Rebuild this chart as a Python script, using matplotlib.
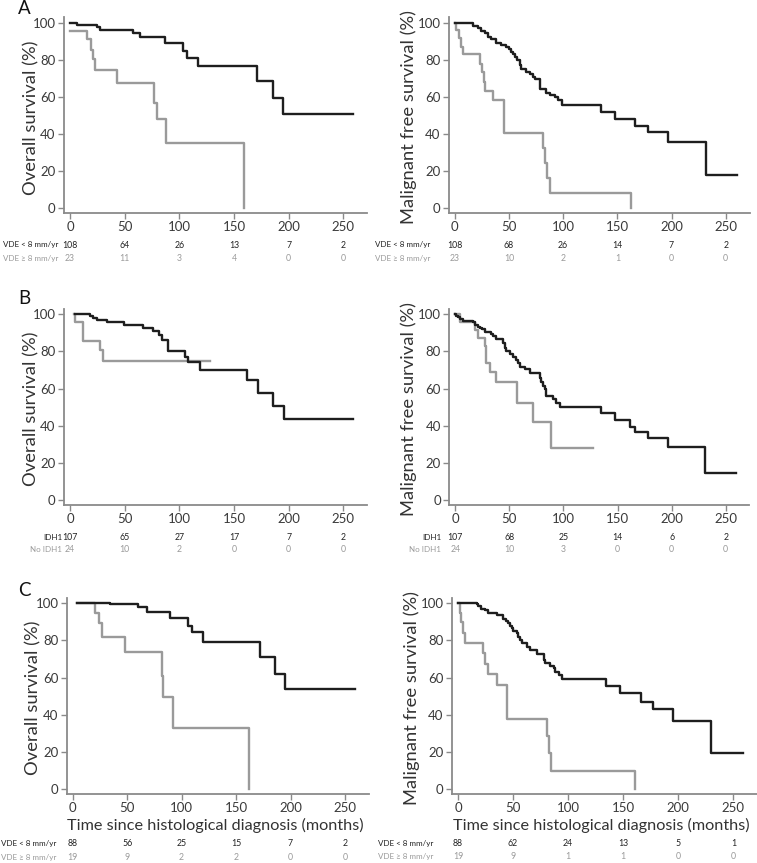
import matplotlib
matplotlib.use("Agg")
import matplotlib.pyplot as plt

plt.rcParams['font.family'] = ['Lato', 'DejaVu Sans']

W, H = 757, 863
BLACK = '#1e1e1e'
GRAY = '#9a9a9a'
AXC = '#8a8a8a'

# --- data: Kaplan-Meier steps (months, survival %) ---
# A: VDE groups
a_os_low_t = [0, 6.7, 24.4, 27.4, 57.3, 64, 86.9, 103, 106.7, 116.8, 170.7, 185.4, 194.5, 258.5]
a_os_low_s = [99.6, 98.7, 97.8, 96.0, 94.3, 92.5, 89.2, 84.9, 80.8, 76.7, 68.6, 59.6, 50.8, 50.8]
a_os_high_t = [0, 15.9, 18.9, 20.7, 22.9, 43.3, 77, 79.3, 87.5, 159.5, 159.5]
a_os_high_s = [95.7, 91.0, 85.3, 80.2, 74.5, 67.7, 56.9, 47.9, 35.0, 35.0, 0]

a_mfs_low_t = [0, 16.9, 21.5, 24.6, 27.7, 30.8, 33.8, 38.4, 43, 47.7, 50.1, 52.3, 53.8, 55.4,
               57.8, 60, 61.5, 66.1, 69.2, 72.3, 73.8, 78.4, 84.6, 87.6, 92.3, 95.3, 99.3,
               134.7, 148.2, 166, 178.4, 196.8, 231.5, 260.8]
a_mfs_low_s = [100, 98.2, 97.0, 95.7, 94.3, 92.1, 91.0, 88.9, 87.8, 87.1, 85.6, 84.4, 83.1, 81.3,
               79.9, 77.2, 74.9, 73.6, 72.4, 70.9, 69.7, 64.1, 62.3, 61.0, 59.8, 58.3, 55.7,
               52.1, 48.1, 44.3, 40.9, 35.9, 18.0, 18.0]
a_mfs_high_t = [0, 1.5, 3.7, 5.5, 7.7, 23.1, 25.5, 27.1, 28.3, 35.4, 45.5, 81.5, 83, 85.2, 87.6, 163, 163]
a_mfs_high_s = [100, 96, 91.6, 87.1, 82.9, 77.7, 73.6, 68.2, 63.2, 58.3, 40.8, 32.3, 24.6, 16.5, 8.4, 8.4, 0]

# B: IDH1 groups
b_os_idh_t = [4.6, 18.3, 21, 24.4, 33.5, 49.4, 67, 76.2, 81.7, 83.8, 89.9, 105.2, 108.2, 118.9,
              161.6, 172.3, 186, 195.7, 258.5]
b_os_idh_s = [100, 99.3, 98.2, 96.9, 96.1, 94.3, 92.5, 91.2, 88.9, 86.2, 80.4, 76.8, 74.5, 70.0,
              64.6, 57.8, 50.6, 43.4, 43.4]
b_os_no_t = [4.0, 5.0, 11.6, 27.4, 29.9, 128]
b_os_no_s = [100, 96.0, 85.8, 80.8, 75.0, 75.0]

b_mfs_idh_t = [0, 0.9, 2.5, 4, 7.1, 16.3, 17.9, 21, 22.5, 24.7, 27.1, 33.3, 34.8, 37.9, 44.1, 45.6,
               47.2, 50.2, 53.3, 56.4, 58, 59.5, 64.1, 68.7, 78, 79.5, 81.1, 82.6, 84.2, 90.3,
               93.4, 96.5, 134.4, 147.3, 161.2, 165.8, 178.2, 196.7, 230.6, 259.9]
b_mfs_idh_s = [100, 99.3, 98.7, 97.5, 96.6, 95.7, 94.3, 93.4, 92.6, 91.9, 90.3, 89.4, 88.3, 86.5,
               84.7, 81.7, 80.4, 78.6, 76.8, 75.4, 74.0, 71.5, 70.4, 68.6, 65.5, 63.7, 61.4, 59.6,
               55.9, 54.2, 52.4, 49.9, 46.7, 43.1, 39.5, 36.4, 33.2, 28.7, 14.4, 14.4]
b_mfs_no_t = [0, 4, 17.9, 21, 27.1, 28.7, 31.8, 37.9, 57.3, 71.8, 88.2, 127.3]
b_mfs_no_s = [100, 96, 91.6, 87.1, 82.9, 73.6, 69.1, 63.7, 52.4, 42.2, 27.8, 27.8]

# C: VDE groups, subset
c_os_low_t = [4.3, 34.3, 60.3, 67.9, 89.4, 106.2, 109.2, 120, 172, 185.7, 194.9, 259.2]
c_os_low_s = [100, 99.5, 97.8, 95.5, 91.9, 87.8, 84.7, 79.4, 70.9, 61.9, 53.7, 53.7]
c_os_high_t = [4.3, 20.5, 24.5, 26.6, 48, 81.7, 83.2, 91.8, 162.2, 162.2]
c_os_high_s = [100, 95, 89.2, 82, 74, 60.9, 49.4, 33, 33, 0]

c_mfs_low_t = [0, 16.8, 18.3, 21.3, 24.4, 27.4, 35.1, 41.2, 43.6, 45.7, 47.3, 48.8, 50.3, 53.4,
               54.9, 56.4, 57.9, 62.5, 65.5, 71.6, 77.7, 79.3, 83.8, 86.9, 88.4, 91.5, 94.5,
               134.1, 147, 166.2, 177.4, 195.1, 229.3, 258.5]
c_mfs_low_s = [100, 99.5, 98.3, 97.1, 96.2, 95.0, 93.5, 91.7, 90.5, 89.2, 87.8, 86.5, 85.1, 83.8,
               82.0, 80.3, 78.8, 76.7, 74.9, 72.6, 69.5, 68.1, 66.4, 64.9, 63.1, 61.5, 59.3,
               55.5, 51.9, 47.0, 42.9, 36.8, 19.6, 19.6]
c_mfs_high_t = [0, 1.5, 3, 4.6, 6.7, 22.9, 24.4, 26.8, 35.1, 44.2, 80.8, 82.9, 84.8, 160.7, 160.7]
c_mfs_high_s = [100, 95, 89.8, 84.2, 78.5, 73.1, 67.2, 61.8, 56, 37.5, 28.5, 19.2, 9.7, 9.7, 0]

# number at risk
ticks = [0, 50, 100, 150, 200, 250]
a_os_risk = ([108, 64, 26, 13, 7, 2], [23, 11, 3, 4, 0, 0])
a_mfs_risk = ([108, 68, 26, 14, 7, 2], [23, 10, 2, 1, 0, 0])
b_os_risk = ([107, 65, 27, 17, 7, 2], [24, 10, 2, 0, 0, 0])
b_mfs_risk = ([107, 68, 25, 14, 6, 2], [24, 10, 3, 0, 0, 0])
c_os_risk = ([88, 56, 25, 15, 7, 2], [19, 9, 2, 2, 0, 0])
c_mfs_risk = ([88, 62, 24, 13, 5, 1], [19, 9, 1, 1, 0, 0])

vde_labels = ['VDE < 8 mm/yr', 'VDE ≥ 8 mm/yr']
idh_labels = ['IDH1', 'No IDH1']

XLIM = (-5.5, 272)
YLIM = (-2.6, 103)

fig = plt.figure(figsize=(W / 100, H / 100), dpi=100)


def fx(x):
    return x / W


def fy(y):
    return 1 - y / H


def make_ax(x0, x250, y100, y0):
    sx = (x250 - x0) / 250.0
    sy = (y0 - y100) / 100.0
    left = x0 + XLIM[0] * sx
    right = x0 + XLIM[1] * sx
    top = y0 - YLIM[1] * sy
    bottom = y0 - YLIM[0] * sy
    ax = fig.add_axes([fx(left), fy(bottom), fx(right - left), (bottom - top) / H])
    ax.set_xlim(*XLIM)
    ax.set_ylim(*YLIM)
    for s in ['top', 'right']:
        ax.spines[s].set_visible(False)
    for s in ['left', 'bottom']:
        ax.spines[s].set_color(AXC)
        ax.spines[s].set_linewidth(1.3)
    ax.set_xticks(ticks)
    ax.set_yticks([0, 20, 40, 60, 80, 100])
    ax.tick_params(colors=AXC, labelcolor='#3a3a3a', labelsize=9.5, length=4, width=1, pad=2)
    ax.patch.set_alpha(0)
    return ax


def draw(ax, t1, s1, t2, s2):
    ax.step(t1, s1, where='post', color=BLACK, lw=1.7, zorder=3)
    ax.step(t2, s2, where='post', color=GRAY, lw=1.7, zorder=2)


def risk(x0, x250, rows, labels, lab_x, y1, y2):
    sx = (x250 - x0) / 250.0
    for vals, lab, yy, col in [(rows[0], labels[0], y1, '#222222'), (rows[1], labels[1], y2, GRAY)]:
        fig.text(fx(lab_x), fy(yy), lab, ha='right', va='center', fontsize=5.8, color=col)
        for t, v in zip(ticks, vals):
            fig.text(fx(x0 + t * sx), fy(yy), str(v), ha='center', va='center', fontsize=6.3, color=col)


panels = [
    # x0, x250, y100, y0, curves, risk, labels, lab_x, ylabel, ylab_x, risk rows y
    (70, 343.3, 22.7, 208.3, (a_os_low_t, a_os_low_s, a_os_high_t, a_os_high_s), a_os_risk, vde_labels, 58, 'Overall survival (%)', 31, 245, 258),
    (454.7, 725.7, 22.7, 208.3, (a_mfs_low_t, a_mfs_low_s, a_mfs_high_t, a_mfs_high_s), a_mfs_risk, vde_labels, 430, 'Malignant free survival (%)', 409, 245, 258),
    (70, 343.3, 314.3, 500, (b_os_idh_t, b_os_idh_s, b_os_no_t, b_os_no_s), b_os_risk, idh_labels, 62, 'Overall survival (%)', 31, 537, 550),
    (455.3, 725.7, 314.3, 500, (b_mfs_idh_t, b_mfs_idh_s, b_mfs_no_t, b_mfs_no_s), b_mfs_risk, idh_labels, 441, 'Malignant free survival (%)', 409, 537, 550),
    (72.7, 345, 603.3, 789, (c_os_low_t, c_os_low_s, c_os_high_t, c_os_high_s), c_os_risk, vde_labels, 56, 'Overall survival (%)', 33, 843, 857),
    (458, 733.3, 603.3, 789, (c_mfs_low_t, c_mfs_low_s, c_mfs_high_t, c_mfs_high_s), c_mfs_risk, vde_labels, 433, 'Malignant free survival (%)', 412, 843, 856),
]

for i, (x0, x250, y100, y0, cur, rk, labs, lab_x, ylab, ylab_x, ry1, ry2) in enumerate(panels):
    ax = make_ax(x0, x250, y100, y0)
    draw(ax, *cur)
    fig.text(fx(ylab_x), fy((y100 + y0) / 2 + 2), ylab, rotation=90, ha='center', va='center',
             fontsize=13.2, color='#333333')
    risk(x0, x250, rk, labs, lab_x, ry1, ry2)
    if i >= 4:
        fig.text(fx((x0 + x250) / 2 + 6), fy(825), 'Time since histological diagnosis (months)',
                 ha='center', va='center', fontsize=11.7, color='#333333')

for lab, yy in [('A', 9), ('B', 299), ('C', 590)]:
    fig.text(fx(18), fy(yy), lab, ha='left', va='center', fontsize=13.5, color='#111111')

fig.savefig('out.png', dpi=100)
